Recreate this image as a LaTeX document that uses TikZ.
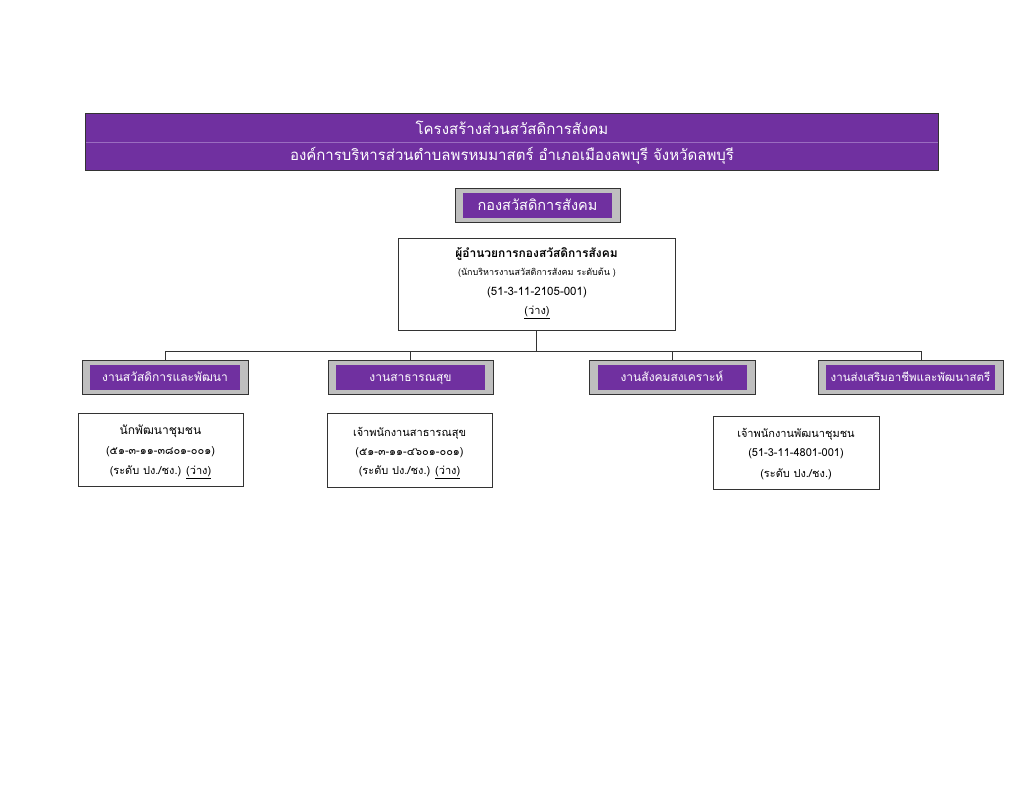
\documentclass[tikz,border=0pt]{standalone}
\usepackage{fontspec}
\setmainfont[Script=Thai]{Loma}
\newfontfamily\thaifont[Script=Thai]{Loma}
\usetikzlibrary{positioning}

\definecolor{orgpurple}{HTML}{7030A0}
\definecolor{orggray}{HTML}{BFBFBF}
\definecolor{rowline}{HTML}{9A6CC0}

\tikzset{
  banner/.style={fill=orgpurple, text=white, minimum width=852pt, minimum height=28pt,
    inner sep=0pt, font=\thaifont\fontsize{15}{17}\selectfont},
  graybox/.style={fill=orggray, draw=black!80, line width=1pt, minimum height=34pt, inner sep=0pt},
  purplebox/.style={fill=orgpurple, text=white, minimum height=25pt, inner sep=0pt,
    text height=10pt, text depth=2pt, font=\thaifont\fontsize{12}{14}\selectfont},
  staffbox/.style={draw=black!80, line width=0.6pt, inner sep=0pt},
  stafftext/.style={font=\thaifont\fontsize{11}{13}\selectfont, inner sep=0pt}
}

\begin{document}
\begin{tikzpicture}[x=1pt, y=-1pt]
	\useasboundingbox (0, 0) rectangle (1024, 791);

	% title banner
	\node[banner] (title1) at (512, 128) {โครงสร้างส่วนสวัสดิการสังคม};
	\node[banner] (title2) at (512, 156) {องค์การบริหารส่วนตำบลพรหมมาสตร์ อำเภอเมืองลพบุรี จังหวัดลพบุรี};
	\draw[rowline, thin] (title1.south west) -- (title1.south east);
	\draw[black!80, line width=0.8pt] (title1.north west) rectangle (title2.south east);

	% division
	\node[graybox, minimum width=165pt] (div) at (537.5, 205.5) {};
	\node[purplebox, minimum width=149pt, text height=12pt, text depth=2.5pt, font=\thaifont\fontsize{14.5}{16}\selectfont] (divname) at (div.center) {กองสวัสดิการสังคม};

	% director
	\node[staffbox, minimum width=277pt, minimum height=92pt] (dir) at (536.5, 284) {};
	\node[stafftext, font=\thaifont\bfseries\fontsize{12}{14}\selectfont] (dirtitle) at (536.5, 254) {ผู้อำนวยการกองสวัสดิการสังคม};
	\node[stafftext, font=\thaifont\fontsize{9}{11}\selectfont] (dirrank) at (537, 273) {(นักบริหารงานสวัสดิการสังคม ระดับต้น )};
	\node[stafftext, font=\thaifont\fontsize{11.5}{13}\selectfont] (dirno) at (537, 293) {(51-3-11-2105-001)};
	\node[stafftext] (dirvac) at (537, 312) {\underline{(ว่าง)}};

	% sections
	\node[graybox, minimum width=166pt] (sec1) at (165, 377.5) {};
	\node[purplebox, minimum width=150pt] (sec1name) at (sec1.center) {งานสวัสดิการและพัฒนา};
	\node[graybox, minimum width=165pt] (sec2) at (410.5, 377.5) {};
	\node[purplebox, minimum width=149pt] (sec2name) at (sec2.center) {งานสาธารณสุข};
	\node[graybox, minimum width=166pt] (sec3) at (672, 377.5) {};
	\node[purplebox, minimum width=149pt] (sec3name) at (sec3.center) {งานสังคมสงเคราะห์};
	\node[graybox, minimum width=185pt] (sec4) at (910.5, 377.5) {};
	\node[purplebox, minimum width=169pt, font=\thaifont\fontsize{11.5}{14}\selectfont] (sec4name) at (sec4.center) {งานส่งเสริมอาชีพและพัฒนาสตรี};

	% connectors
	\coordinate (busL) at (165, 351);
	\coordinate (busR) at (921, 351);
	\draw[black!80] (dir.south) -- (dir.south |- busL);
	\draw[black!80] (sec1.north) |- (busR) -- (busR |- sec4.north);
	\draw[black!80] (sec2.north) -- (sec2.north |- busL);
	\draw[black!80] (sec3.north) -- (sec3.north |- busL);

	% staff
	\node[staffbox, minimum width=165pt, minimum height=73pt] (staff1) at (160.5, 449.5) {};
	\node[stafftext, font=\thaifont\fontsize{12}{14}\selectfont] (staff1a) at (160.5, 431) {นักพัฒนาชุมชน};
	\node[stafftext] (staff1b) at (160.5, 452) {(๕๑-๓-๑๑-๓๘๐๑-๐๐๑)};
	\node[stafftext] (staff1c) at (160.5, 472) {(ระดับ ปง./ชง.) \underline{(ว่าง)}};

	\node[staffbox, minimum width=165pt, minimum height=74pt] (staff2) at (409.5, 450) {};
	\node[stafftext] (staff2a) at (409.5, 433) {เจ้าพนักงานสาธารณสุข};
	\node[stafftext] (staff2b) at (409.5, 453) {(๕๑-๓-๑๑-๔๖๐๑-๐๐๑)};
	\node[stafftext] (staff2c) at (409.5, 472) {(ระดับ ปง./ชง.) \underline{(ว่าง)}};

	\node[staffbox, minimum width=166pt, minimum height=73pt] (staff3) at (796, 452.5) {};
	\node[stafftext] (staff3a) at (796, 434) {เจ้าพนักงานพัฒนาชุมชน};
	\node[stafftext] (staff3b) at (796, 454) {(51-3-11-4801-001)};
	\node[stafftext] (staff3c) at (796, 474) {(ระดับ ปง./ชง.)};
\end{tikzpicture}
\end{document}
